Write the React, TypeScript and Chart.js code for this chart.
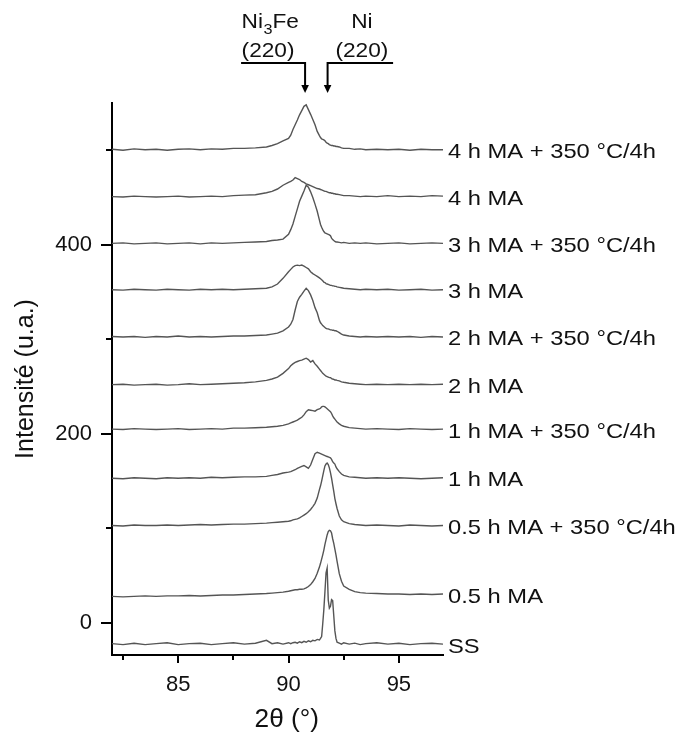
import React, { useEffect, useRef } from "react";
import { Chart, registerables } from "chart.js";

Chart.register(...registerables);

const FONT = "'Liberation Sans', Arial, Helvetica, sans-serif";

// 2θ grid (degrees)
const twoTheta = [
  82.0, 82.5, 83.0, 83.5, 84.0, 84.5, 85.0, 85.5, 86.0, 86.5,
  87.0, 87.5, 88.0, 88.5, 89.0, 89.25, 89.5, 89.75, 90.0, 90.1,
  90.2, 90.3, 90.4, 90.5, 90.6, 90.7, 90.8, 90.9, 91.0, 91.1,
  91.2, 91.3, 91.4, 91.45, 91.5, 91.55, 91.6, 91.65, 91.7, 91.75,
  91.8, 91.85, 91.9, 91.95, 92.0, 92.05, 92.1, 92.15, 92.2, 92.3,
  92.4, 92.5, 92.75, 93.0, 93.25, 93.5, 94.0, 94.5, 95.0, 95.5,
  96.0, 96.5, 97.0,
];

// Intensities (offset traces, u.a.)
const ma4hAnnealed = [
  501, 500, 501.5, 500.5, 501, 500, 501, 501.5, 500.5, 501.5,
  501, 502, 502, 502.5, 503.5, 505, 507, 510, 512.5, 516,
  522, 527, 532, 537.5, 542, 546.5, 548, 543, 538, 532.5,
  527, 520, 515.5, 513.5, 512, 511.5, 511, 510, 508.5, 507.5,
  507, 506, 505.5, 505, 505, 504.5, 504.5, 504, 504, 503.5,
  502.5, 502, 502, 501, 501.5, 500.5, 501, 500.5, 501, 500,
  501, 500.5, 500.5,
];
const ma4h = [
  451, 450.5, 451.5, 451, 450.5, 451, 451.5, 450.5, 451, 451.5,
  451, 452, 452.5, 453, 455, 456.5, 459, 463, 466, 467,
  468.5, 471, 470, 469, 467, 466, 464.5, 463.5, 462.5, 461.5,
  460.5, 459.5, 459, 458.5, 458, 457.5, 457, 456.5, 456.5, 456,
  455.5, 455, 455, 454.5, 454.5, 454, 454, 453.5, 453.5, 453,
  452.5, 452, 452, 451.5, 451, 451.5, 451, 452, 451, 451.5,
  451, 452, 451.5,
];
const ma3hAnnealed = [
  401.5, 402, 401, 401.5, 402, 401, 401.5, 402, 401, 402,
  401.5, 402, 402.5, 403, 403.5, 404.5, 405, 406, 411, 416,
  422, 430, 438, 446, 451.5, 457, 463, 461, 456, 450,
  443, 435.5, 426, 421.5, 418.5, 416, 414, 412.5, 412, 411.5,
  411, 410.5, 409.5, 407, 405.5, 404.5, 403.5, 403, 403, 402.5,
  402, 402.5, 401.5, 402, 401.5, 402, 401, 401.5, 402, 401,
  401.5, 402, 401.5,
];
const ma3h = [
  352.5, 352, 353, 352.5, 352, 353, 352.5, 352, 353, 352.5,
  353, 352.5, 353, 353.5, 354, 355.5, 358.5, 364.5, 371.5, 374,
  376.5, 378, 378.5, 378, 378.5, 377.5, 376, 374.5, 371.5, 369.5,
  368, 366.5, 365, 364, 363, 362, 360.5, 360, 359, 358.5,
  358, 357.5, 357, 357, 356.5, 356.5, 356, 356, 355.5, 355,
  354.5, 354, 353.5, 353, 352.5, 353, 352.5, 353, 352, 352.5,
  353, 352, 352.5,
];
const ma2hAnnealed = [
  303, 302.5, 303, 302, 303, 302.5, 303.5, 302.5, 303, 302.5,
  303, 303.5, 303.5, 304, 304.5, 305.5, 306.5, 309, 313, 316,
  321, 331, 340, 344.5, 347.5, 351, 354, 351.5, 347, 341,
  333.5, 328, 320, 317.5, 316, 314.5, 313.5, 312.5, 311.5, 311,
  311, 310.5, 310, 310, 309.5, 309.5, 309, 309, 308.5, 307,
  305.5, 304.5, 303.5, 303, 302.5, 303, 302.5, 303, 302.5, 303,
  302, 303, 302.5,
];
const ma2h = [
  252, 252.5, 251.5, 252, 252.5, 251.5, 252, 253, 252, 252.5,
  253, 253.5, 254, 255, 256.5, 258, 260, 264, 269, 272,
  274, 275.5, 276.5, 277.5, 278, 279, 280, 278.5, 276, 277.5,
  274, 271.5, 268.5, 267, 265.5, 264, 263, 262, 261, 260.5,
  260, 259.5, 259.5, 258.5, 258, 257.5, 257, 257, 256.5, 256,
  255, 254.5, 253.5, 253, 252.5, 252, 252.5, 252, 252.5, 252,
  252.5, 252, 252.5,
];
const ma1hAnnealed = [
  205, 204.5, 205.5, 205, 204.5, 205, 205.5, 204.5, 205, 205.5,
  205, 206, 206, 206.5, 207, 207.5, 208, 209, 210.5, 211.5,
  212.5, 213.5, 214.5, 216, 217.5, 220, 223.5, 225.5, 225, 224.5,
  224, 225.5, 226.5, 227, 228.5, 229, 229, 228.5, 227.5, 226.5,
  225.5, 224.5, 223.5, 221.5, 219, 217, 215.5, 214, 212.5, 210.5,
  209, 208, 206.5, 206, 205.5, 205, 205.5, 205, 204.5, 205.5,
  205, 204.5, 205,
];
const ma1h = [
  153, 152.5, 153.5, 153, 152.5, 153.5, 153, 153.5, 153, 154,
  153.5, 154, 154.5, 154.5, 155, 156, 157, 158.5, 159.5, 160,
  161, 162, 163.5, 164.5, 165.5, 166.5, 165, 163.5, 167, 173,
  179, 180.5, 179.5, 179, 178.5, 178, 177.5, 177, 176.5, 176,
  175.5, 175, 174.5, 173, 170.5, 169, 168, 165, 163, 160,
  157.5, 156, 154.5, 154, 153.5, 153, 153.5, 153, 153.5, 153,
  152.5, 153, 153.5,
];
const ma05hAnnealed = [
  103, 102.5, 103.5, 103, 103, 103.5, 103, 103.5, 104, 103.5,
  104, 104.5, 104.5, 105, 105.5, 106, 106.5, 107, 107.5, 108,
  109, 109.5, 110, 111, 112.5, 114, 115.5, 117.5, 120, 123,
  126.5, 132, 141, 145, 150, 155.5, 161, 166, 168, 169,
  167.5, 164, 159, 153, 146, 139, 131.5, 126, 121, 113,
  109, 107, 105, 104, 103.5, 103, 103.5, 103, 102.5, 103.5,
  103, 102.5, 103,
];
const ma05h = [
  28, 27.5, 28, 28.5, 28, 28.5, 28.5, 29, 28.5, 29,
  29.5, 29.5, 30, 30.5, 31, 31.5, 32, 32.5, 33.5, 34,
  34.5, 35, 35, 35.5, 35.5, 36, 37, 38.5, 40.5, 43.5,
  47, 52.5, 59, 63, 67.5, 72, 77, 83, 88, 93,
  96.5, 98, 97.5, 95, 89, 84, 78, 72, 65, 52,
  44, 39, 35.5, 33, 32, 31.5, 31, 30.5, 30.5, 30,
  30.5, 30, 30.5,
];
const ssValues = [
  -22, -23, -21.5, -23, -22, -21, -23, -22, -21.5, -23,
  -22, -21, -22.5, -21.5, -18.5, -22, -21, -22.5, -21, -22,
  -21, -20.5, -21.5, -20, -21, -19.5, -20.5, -19, -20, -18.5,
  -19, -17.5, -18, -16.5, -14.5, -1, 14, 33, 53, 58,
  24, 15.5, 17.5, 24.5, 23.5, 7.5, -8.5, -16.5, -20.5, -21.5,
  -22.5, -21, -22.5, -21.5, -23, -22, -21, -22.5, -21.5, -23,
  -22, -21.5, -22.5,
];

const sampleLabels = [
  "4 h MA + 350 °C/4h",
  "4 h MA",
  "3 h MA + 350 °C/4h",
  "3 h MA",
  "2 h MA + 350 °C/4h",
  "2 h MA",
  "1 h MA + 350 °C/4h",
  "1 h MA",
  "0.5 h MA + 350 °C/4h",
  "0.5 h MA",
  "SS",
];
const seriesValues = [
  ma4hAnnealed, ma4h, ma3hAnnealed, ma3h, ma2hAnnealed, ma2h,
  ma1hAnnealed, ma1h, ma05hAnnealed, ma05h, ssValues,
];

const xTickValues = [82.5, 85, 87.5, 90, 92.5, 95];
const xTickLabels = ["", "85", "", "90", "", "95"];
const yTickValues = [0, 100, 200, 300, 400, 500];
const yTickLabels = ["0", "", "200", "", "400", ""];

const xTitle = "2θ (°)";
const yTitle = "Intensité (u.a.)";
const peakNi3Fe = 90.75;
const peakNi = 91.77;

function drawStretched(
  ctx: CanvasRenderingContext2D,
  text: string,
  x: number,
  y: number,
  size: number,
  sx: number,
  align: "left" | "center"
) {
  ctx.save();
  ctx.font = `${size}px ${FONT}`;
  ctx.textBaseline = "alphabetic";
  ctx.textAlign = "left";
  const w = ctx.measureText(text).width * sx;
  const x0 = align === "center" ? x - w / 2 : x;
  ctx.translate(x0, y);
  ctx.scale(sx, 1);
  ctx.fillText(text, 0, 0);
  ctx.restore();
  return w;
}

const overlayPlugin = {
  id: "overlay",
  afterDraw(chart: any) {
    const ctx: CanvasRenderingContext2D = chart.ctx;
    const xs = chart.scales.x;
    const ys = chart.scales.y;
    const area = chart.chartArea;
    ctx.save();
    ctx.strokeStyle = "#000";
    ctx.fillStyle = "#111";
    ctx.lineWidth = 2;
    // minor ticks
    xTickValues.forEach((v, i) => {
      if (xTickLabels[i] !== "") return;
      const px = Math.round(xs.getPixelForValue(v));
      ctx.beginPath();
      ctx.moveTo(px, area.bottom);
      ctx.lineTo(px, area.bottom + 5);
      ctx.stroke();
    });
    yTickValues.forEach((v, i) => {
      if (yTickLabels[i] !== "") return;
      const py = Math.round(ys.getPixelForValue(v));
      ctx.beginPath();
      ctx.moveTo(area.left, py);
      ctx.lineTo(area.left - 6, py);
      ctx.stroke();
    });
    // sample labels at the end of each trace
    chart.data.datasets.forEach((_ds: any, i: number) => {
      const meta = chart.getDatasetMeta(i);
      const last = meta.data[meta.data.length - 1];
      const cy = last.y + 1;
      drawStretched(ctx, sampleLabels[i], area.right + 5, cy + 0.358 * 21, 21, 1.13, "left");
    });
    // x-axis title
    drawStretched(ctx, xTitle, xs.getPixelForValue(89.92), 727, 25, 1.05, "center");
    // peak annotations
    const a1 = xs.getPixelForValue(peakNi3Fe);
    const a2 = xs.getPixelForValue(peakNi);
    const left1 = a1 - 63.5;
    let w = drawStretched(ctx, "Ni", left1, 28.3, 21, 1.08, "left");
    w += drawStretched(ctx, "3", left1 + w + 0.5, 34, 15, 1.08, "left") + 0.5;
    drawStretched(ctx, "Fe", left1 + w, 28.3, 21, 1.08, "left");
    drawStretched(ctx, "(220)", left1, 56.7, 21, 1.08, "left");
    drawStretched(ctx, "Ni", a2 + 34.3, 28.3, 21, 1.08, "center");
    drawStretched(ctx, "(220)", a2 + 34.3, 56.7, 21, 1.08, "center");
    ctx.lineJoin = "miter";
    ctx.beginPath();
    ctx.moveTo(a1 - 64, 63);
    ctx.lineTo(a1, 63);
    ctx.lineTo(a1, 86);
    ctx.stroke();
    ctx.beginPath();
    ctx.moveTo(a2 + 65.5, 63);
    ctx.lineTo(a2, 63);
    ctx.lineTo(a2, 86);
    ctx.stroke();
    ctx.fillStyle = "#000";
    [a1, a2].forEach((a) => {
      ctx.beginPath();
      ctx.moveTo(a, 93);
      ctx.lineTo(a - 3.8, 85);
      ctx.lineTo(a + 3.8, 85);
      ctx.closePath();
      ctx.fill();
    });
    ctx.restore();
  },
};

export default function App() {
  const canvasRef = useRef<HTMLCanvasElement | null>(null);

  useEffect(() => {
    const canvas = canvasRef.current;
    if (!canvas) return;
    const datasets = seriesValues.map((vals, i) => ({
      label: sampleLabels[i],
      data: twoTheta.map((x, j) => ({ x, y: vals[j] })),
      borderColor: "#555555",
      borderWidth: 1.4,
      pointRadius: 0,
      fill: false,
      tension: 0,
    }));
    const chart = new Chart(canvas, {
      type: "line",
      data: { datasets },
      options: {
        animation: false,
        responsive: false,
        devicePixelRatio: 1,
        layout: { padding: { left: 0, right: 235, top: 103, bottom: 0 } },
        plugins: {
          legend: { display: false },
          tooltip: { enabled: false },
        },
        scales: {
          x: {
            type: "linear",
            min: 82.0,
            max: 97.0,
            afterBuildTicks: (s: any) => {
              s.ticks = xTickValues.map((v) => ({ value: v }));
            },
            afterFit: (s: any) => {
              s.height = 81;
            },
            ticks: {
              autoSkip: false,
              maxRotation: 0,
              padding: 9,
              color: "#111",
              font: { family: FONT, size: 22 },
              callback: (_v: any, i: number) => xTickLabels[i],
            },
            grid: {
              drawOnChartArea: false,
              drawTicks: true,
              tickLength: 8,
              lineWidth: 2,
              tickColor: (c: any) =>
                c.index !== undefined && xTickLabels[c.index] !== "" ? "#000" : "rgba(0,0,0,0)",
            },
            border: { display: true, color: "#000", width: 2 },
          },
          y: {
            type: "linear",
            min: -34,
            max: 550,
            afterBuildTicks: (s: any) => {
              s.ticks = yTickValues.map((v) => ({ value: v }));
            },
            afterFit: (s: any) => {
              s.width = 112;
            },
            ticks: {
              autoSkip: false,
              padding: 9,
              color: "#111",
              font: { family: FONT, size: 22 },
              callback: (_v: any, i: number) => yTickLabels[i],
            },
            grid: {
              drawOnChartArea: false,
              drawTicks: true,
              tickLength: 11,
              lineWidth: 2,
              tickColor: (c: any) =>
                c.index !== undefined && yTickLabels[c.index] !== "" ? "#000" : "rgba(0,0,0,0)",
            },
            border: { display: true, color: "#000", width: 2 },
            title: {
              display: true,
              text: yTitle,
              color: "#111",
              font: { family: FONT, size: 25 },
              padding: { top: 11, bottom: 0 },
            },
          },
        },
      },
      plugins: [overlayPlugin],
    });
    return () => chart.destroy();
  }, []);

  return (
    <div style={{ position: "fixed", left: 0, top: 0, width: 678, height: 736, background: "#fff" }}>
      <canvas ref={canvasRef} width={678} height={736} style={{ display: "block" }} />
    </div>
  );
}
